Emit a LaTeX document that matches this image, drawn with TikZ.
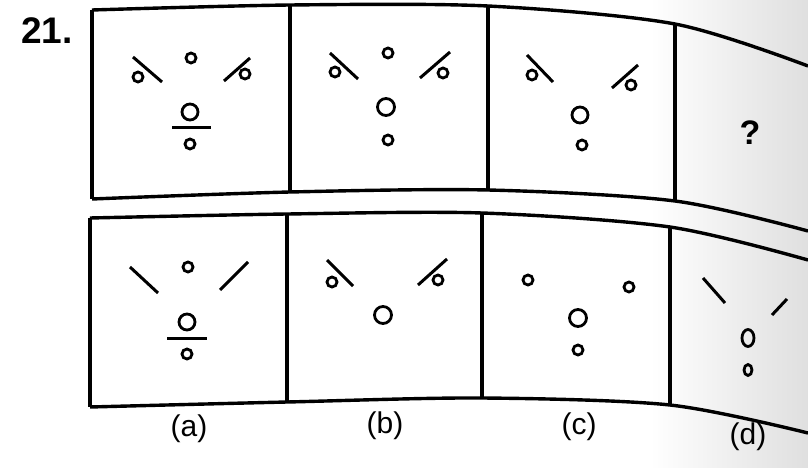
\documentclass[tikz,border=0pt]{standalone}
\usepackage{fontspec}
\setmainfont{Liberation Sans}
\usepackage{xcolor}
\usepackage{tikz}

\begin{document}
\begin{tikzpicture}[x=1pt, y=-1pt,
    frame/.style={line width=3.4pt},
    ring/.style={line width=2.8pt},
    bar/.style={line width=3pt},
    lbl/.style={font=\fontsize{30}{30}\selectfont}]
  \useasboundingbox (0,0) rectangle (808,468);
  % shadow of the page fold on the right
  \fill[left color=white, right color=gray!25, draw=none] (650,0) rectangle (808,468);

  % question row
  \draw[frame] plot[smooth] coordinates {(92,10) (290,5) (488,6) (675,24) (808,66)};
  \draw[frame] plot[smooth] coordinates {(92,199) (290,192) (488,190) (675,201) (808,231)};
  \draw[frame] (92,10) -- (92,199);
  \draw[frame] (290,5) -- (290,192);
  \draw[frame] (488,6) -- (488,190);
  \draw[frame] (675,24) -- (675,201);

  % answer row
  \draw[frame] plot[smooth] coordinates {(90,218) (287,214) (482,213) (670,227) (808,260)};
  \draw[frame] plot[smooth] coordinates {(90,407) (287,402) (482,398) (670,405) (808,433)};
  \draw[frame] (90,218) -- (90,407);
  \draw[frame] (287,214) -- (287,402);
  \draw[frame] (482,213) -- (482,398);
  \draw[frame] (670,227) -- (670,405);

  \node[font=\fontsize{37}{37}\bfseries\selectfont] (num) at (47,31) {21.};

  % figure 1
  \draw[bar] (133,57) -- (162,82);
  \draw[ring] (138,77) circle (5);
  \draw[ring] (191,58) circle (5);
  \draw[bar] (224,81) -- (250,58);
  \draw[ring] (245,74) circle (5);
  \draw[ring] (190,112) circle (8);
  \draw[bar] (172,128) -- (211,128);
  \draw[ring] (190,144) circle (5);

  % figure 2
  \draw[bar] (330,53) -- (358,79);
  \draw[ring] (335,72) circle (5);
  \draw[ring] (388,53) circle (5);
  \draw[bar] (420,78) -- (450,52);
  \draw[ring] (443,73) circle (5);
  \draw[ring] (386,107) circle (8.5);
  \draw[ring] (388,140) circle (5);

  % figure 3
  \draw[bar] (527,55) -- (553,82);
  \draw[ring] (532,75) circle (5);
  \draw[bar] (612,88) -- (638,65);
  \draw[ring] (631,85) circle (5);
  \draw[ring] (580,115) circle (8);
  \draw[ring] (582,145) circle (5);

  \node[font=\fontsize{34}{34}\bfseries\selectfont] (quest) at (750,133) {?};

  % answer (a)
  \draw[bar] (130,267) -- (158,293);
  \draw[ring] (188,267) circle (5);
  \draw[bar] (220,290) -- (248,262);
  \draw[ring] (187,322) circle (8);
  \draw[bar] (167,338) -- (207,338);
  \draw[ring] (187,354) circle (5);

  % answer (b)
  \draw[bar] (327,260) -- (353,286);
  \draw[ring] (332,282) circle (5);
  \draw[bar] (418,285) -- (447,259);
  \draw[ring] (438,280) circle (5);
  \draw[ring] (383,315) circle (8.5);

  % answer (c)
  \draw[ring] (528,280) circle (5);
  \draw[ring] (629,287) circle (5);
  \draw[ring] (578,318) circle (8.5);
  \draw[ring] (578,350) circle (5);

  % answer (d)
  \draw[bar] (703,278) -- (725,303);
  \draw[bar] (772,315) -- (787,299);
  \draw[ring] (748,338) ellipse (6 and 8.5);
  \draw[ring] (748,370) ellipse (4 and 5.5);

  \node[lbl] (opta) at (189,429) {(a)};
  \node[lbl] (optb) at (385,426) {(b)};
  \node[lbl] (optc) at (579,427) {(c)};
  \node[lbl] (optd) at (748,437) {(d)};
\end{tikzpicture}
\end{document}
